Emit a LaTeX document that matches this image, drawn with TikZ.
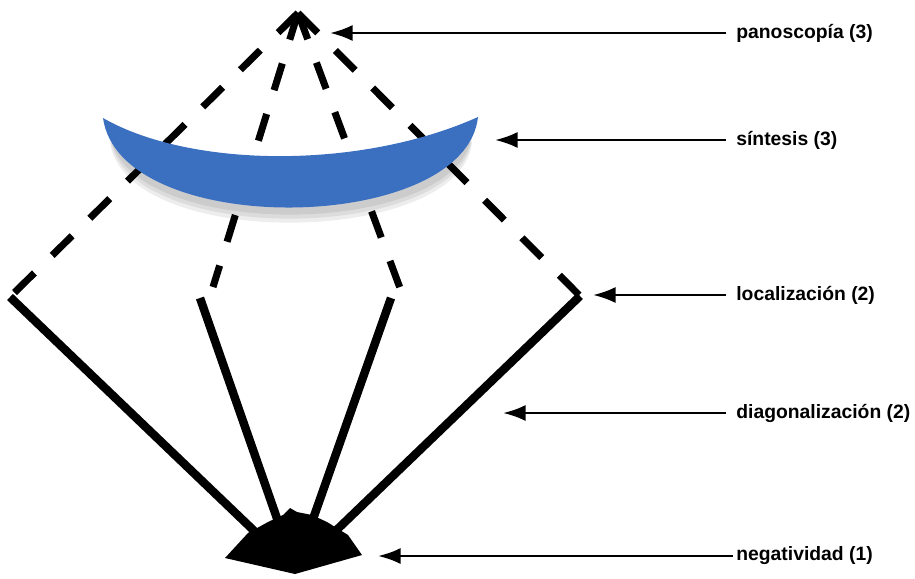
\documentclass[tikz,border=0pt]{standalone}
\usepackage{fontspec}
\setmainfont{Liberation Sans}
\usetikzlibrary{arrows.meta, calc}
\definecolor{cLens}{HTML}{3B70C1}
\tikzset{
  dashray/.style  ={line width=4pt, dash pattern=on 15.9pt off 14.2pt},
  solidray/.style ={line width=4.8pt},
  pointer/.style  ={-{Latex[length=0.45cm, width=0.32cm]}, line width=1.5pt},
  caption/.style  ={font=\fontsize{11pt}{13pt}\selectfont\bfseries, anchor=west,
                    inner ysep=0pt, inner xsep=0.2cm},
  lensshade/.style={fill=black, opacity=0.07}
}
\begin{document}
\begin{tikzpicture}[x=0.02cm, y=-0.02cm]
  \useasboundingbox (0,0) rectangle (915,578);

  % ====================== Key points ======================
  \coordinate (apex)    at (298,13);
  \coordinate (cornerL) at (10,297);
  \coordinate (cornerR) at (580,296);
  \coordinate (endL)    at (213,287);
  \coordinate (endR)    at (400,288);
  \coordinate (startL)  at (200,298);
  \coordinate (startR)  at (391,298);
  \coordinate (base)    at (295,570);

  % ====================== Dashed rays (upper half) ======================
  \draw[dashray] (apex) -- (cornerL);
  \draw[dashray] (apex) -- (endL);
  \draw[dashray] (apex) -- (endR);
  \draw[dashray] (apex) -- (cornerR);

  % ====================== Solid rays (lower half) ======================
  \draw[solidray] (cornerL) -- (base);
  \draw[solidray] (startL)  -- (base);
  \draw[solidray] (startR)  -- (base);
  \draw[solidray] (cornerR) -- (base);

  \fill (225,558) -- (248,533) -- (268,522) -- (283,515) -- (290,508) -- (297,512)
        -- (312,515) -- (327,522) -- (348,535) -- (362,555) -- (295,574) -- cycle;

  % ====================== Lens ======================
  \foreach \dy in {4,8,12}
    \fill[lensshade, yshift=-\dy*0.02cm]
      (110,130) .. controls (190,170) and (360,172) .. (472,130)
      .. controls (462,235) and (125,240) .. (110,130) -- cycle;
  \fill[cLens] (103,118) .. controls (190,168) and (360,170) .. (478,117)
               .. controls (465,235) and (120,240) .. (103,118) -- cycle;

  % ====================== Labels ======================
  \coordinate (panTip)  at (330,33);
  \coordinate (lensTip) at (495,140);
  \coordinate (locTip)  at (593,295);
  \coordinate (diagTip) at (503,413);
  \coordinate (negTip)  at (378,556);

  \node[caption] (panos) at (726,33)  {panoscopía (3)};
  \node[caption] (sint)  at (726,140) {síntesis (3)};
  \node[caption] (loc)   at (726,295) {localización (2)};
  \node[caption] (diag)  at (726,413) {diagonalización (2)};
  \node[caption, inner xsep=0.06cm] (neg) at (733,556) {negatividad (1)};

  \draw[pointer] (panos.west) -- (panTip);
  \draw[pointer] (sint.west)  -- (lensTip);
  \draw[pointer] (loc.west)   -- (locTip);
  \draw[pointer] (diag.west)  -- (diagTip);
  \draw[pointer] (neg.west)   -- (negTip);

\end{tikzpicture}
\end{document}
